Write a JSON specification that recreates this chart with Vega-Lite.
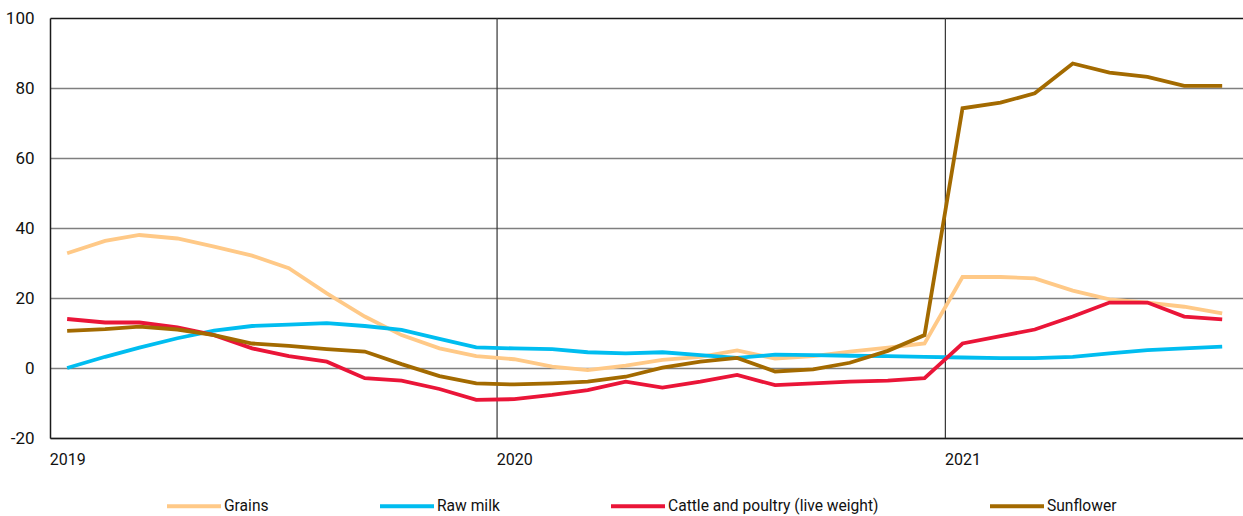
{
  "$schema": "https://vega.github.io/schema/vega-lite/v6.json",
  "width": 1193,
  "height": 420,
  "autosize": {"type": "none"},
  "padding": {"left": 50, "top": 18, "right": 0, "bottom": 78},
  "background": "white",
  "config": {"view": {"stroke": null}, "font": "Roboto"},
  "datasets": {
    "bounds": [{"date": "2020-01-01"}, {"date": "2021-01-01"}],
    "prices": [
      {"date": "2019-01-15", "series": "Grains", "value": 32.8},
      {"date": "2019-02-15", "series": "Grains", "value": 36.3},
      {"date": "2019-03-15", "series": "Grains", "value": 38.0},
      {"date": "2019-04-15", "series": "Grains", "value": 37.0},
      {"date": "2019-05-15", "series": "Grains", "value": 34.7},
      {"date": "2019-06-15", "series": "Grains", "value": 32.1},
      {"date": "2019-07-15", "series": "Grains", "value": 28.5},
      {"date": "2019-08-15", "series": "Grains", "value": 21.3},
      {"date": "2019-09-15", "series": "Grains", "value": 14.7},
      {"date": "2019-10-15", "series": "Grains", "value": 9.4},
      {"date": "2019-11-15", "series": "Grains", "value": 5.6},
      {"date": "2019-12-15", "series": "Grains", "value": 3.4},
      {"date": "2020-01-15", "series": "Grains", "value": 2.5},
      {"date": "2020-02-15", "series": "Grains", "value": 0.4},
      {"date": "2020-03-15", "series": "Grains", "value": -0.6},
      {"date": "2020-04-15", "series": "Grains", "value": 0.7},
      {"date": "2020-05-15", "series": "Grains", "value": 2.3},
      {"date": "2020-06-15", "series": "Grains", "value": 3.2},
      {"date": "2020-07-15", "series": "Grains", "value": 5.0},
      {"date": "2020-08-15", "series": "Grains", "value": 2.7},
      {"date": "2020-09-15", "series": "Grains", "value": 3.4},
      {"date": "2020-10-15", "series": "Grains", "value": 4.7},
      {"date": "2020-11-15", "series": "Grains", "value": 5.8},
      {"date": "2020-12-15", "series": "Grains", "value": 7.0},
      {"date": "2021-01-15", "series": "Grains", "value": 26.0},
      {"date": "2021-02-15", "series": "Grains", "value": 26.0},
      {"date": "2021-03-15", "series": "Grains", "value": 25.6},
      {"date": "2021-04-15", "series": "Grains", "value": 22.1},
      {"date": "2021-05-15", "series": "Grains", "value": 19.6},
      {"date": "2021-06-15", "series": "Grains", "value": 18.7},
      {"date": "2021-07-15", "series": "Grains", "value": 17.5},
      {"date": "2021-08-15", "series": "Grains", "value": 15.6},
      {"date": "2019-01-15", "series": "Raw milk", "value": 0.0},
      {"date": "2019-02-15", "series": "Raw milk", "value": 3.2},
      {"date": "2019-03-15", "series": "Raw milk", "value": 5.8},
      {"date": "2019-04-15", "series": "Raw milk", "value": 8.5},
      {"date": "2019-05-15", "series": "Raw milk", "value": 10.7},
      {"date": "2019-06-15", "series": "Raw milk", "value": 12.0},
      {"date": "2019-07-15", "series": "Raw milk", "value": 12.4},
      {"date": "2019-08-15", "series": "Raw milk", "value": 12.8},
      {"date": "2019-09-15", "series": "Raw milk", "value": 12.0},
      {"date": "2019-10-15", "series": "Raw milk", "value": 10.9},
      {"date": "2019-11-15", "series": "Raw milk", "value": 8.3},
      {"date": "2019-12-15", "series": "Raw milk", "value": 5.9},
      {"date": "2020-01-15", "series": "Raw milk", "value": 5.6},
      {"date": "2020-02-15", "series": "Raw milk", "value": 5.4},
      {"date": "2020-03-15", "series": "Raw milk", "value": 4.5},
      {"date": "2020-04-15", "series": "Raw milk", "value": 4.2},
      {"date": "2020-05-15", "series": "Raw milk", "value": 4.5},
      {"date": "2020-06-15", "series": "Raw milk", "value": 3.7},
      {"date": "2020-07-15", "series": "Raw milk", "value": 2.9},
      {"date": "2020-08-15", "series": "Raw milk", "value": 3.8},
      {"date": "2020-09-15", "series": "Raw milk", "value": 3.7},
      {"date": "2020-10-15", "series": "Raw milk", "value": 3.5},
      {"date": "2020-11-15", "series": "Raw milk", "value": 3.4},
      {"date": "2020-12-15", "series": "Raw milk", "value": 3.2},
      {"date": "2021-01-15", "series": "Raw milk", "value": 3.0},
      {"date": "2021-02-15", "series": "Raw milk", "value": 2.8},
      {"date": "2021-03-15", "series": "Raw milk", "value": 2.8},
      {"date": "2021-04-15", "series": "Raw milk", "value": 3.2},
      {"date": "2021-05-15", "series": "Raw milk", "value": 4.2},
      {"date": "2021-06-15", "series": "Raw milk", "value": 5.1},
      {"date": "2021-07-15", "series": "Raw milk", "value": 5.6},
      {"date": "2021-08-15", "series": "Raw milk", "value": 6.1},
      {"date": "2019-01-15", "series": "Cattle and poultry (live weight)", "value": 14.0},
      {"date": "2019-02-15", "series": "Cattle and poultry (live weight)", "value": 13.0},
      {"date": "2019-03-15", "series": "Cattle and poultry (live weight)", "value": 13.0},
      {"date": "2019-04-15", "series": "Cattle and poultry (live weight)", "value": 11.6},
      {"date": "2019-05-15", "series": "Cattle and poultry (live weight)", "value": 9.4},
      {"date": "2019-06-15", "series": "Cattle and poultry (live weight)", "value": 5.6},
      {"date": "2019-07-15", "series": "Cattle and poultry (live weight)", "value": 3.4},
      {"date": "2019-08-15", "series": "Cattle and poultry (live weight)", "value": 1.8},
      {"date": "2019-09-15", "series": "Cattle and poultry (live weight)", "value": -2.9},
      {"date": "2019-10-15", "series": "Cattle and poultry (live weight)", "value": -3.6},
      {"date": "2019-11-15", "series": "Cattle and poultry (live weight)", "value": -6.0},
      {"date": "2019-12-15", "series": "Cattle and poultry (live weight)", "value": -9.1},
      {"date": "2020-01-15", "series": "Cattle and poultry (live weight)", "value": -8.9},
      {"date": "2020-02-15", "series": "Cattle and poultry (live weight)", "value": -7.7},
      {"date": "2020-03-15", "series": "Cattle and poultry (live weight)", "value": -6.3},
      {"date": "2020-04-15", "series": "Cattle and poultry (live weight)", "value": -3.9},
      {"date": "2020-05-15", "series": "Cattle and poultry (live weight)", "value": -5.6},
      {"date": "2020-06-15", "series": "Cattle and poultry (live weight)", "value": -3.9},
      {"date": "2020-07-15", "series": "Cattle and poultry (live weight)", "value": -2.0},
      {"date": "2020-08-15", "series": "Cattle and poultry (live weight)", "value": -4.9},
      {"date": "2020-09-15", "series": "Cattle and poultry (live weight)", "value": -4.4},
      {"date": "2020-10-15", "series": "Cattle and poultry (live weight)", "value": -3.9},
      {"date": "2020-11-15", "series": "Cattle and poultry (live weight)", "value": -3.6},
      {"date": "2020-12-15", "series": "Cattle and poultry (live weight)", "value": -2.9},
      {"date": "2021-01-15", "series": "Cattle and poultry (live weight)", "value": 7.0},
      {"date": "2021-02-15", "series": "Cattle and poultry (live weight)", "value": 9.1},
      {"date": "2021-03-15", "series": "Cattle and poultry (live weight)", "value": 11.0},
      {"date": "2021-04-15", "series": "Cattle and poultry (live weight)", "value": 14.7},
      {"date": "2021-05-15", "series": "Cattle and poultry (live weight)", "value": 18.7},
      {"date": "2021-06-15", "series": "Cattle and poultry (live weight)", "value": 18.7},
      {"date": "2021-07-15", "series": "Cattle and poultry (live weight)", "value": 14.7},
      {"date": "2021-08-15", "series": "Cattle and poultry (live weight)", "value": 13.9},
      {"date": "2019-01-15", "series": "Sunflower", "value": 10.6},
      {"date": "2019-02-15", "series": "Sunflower", "value": 11.1},
      {"date": "2019-03-15", "series": "Sunflower", "value": 11.8},
      {"date": "2019-04-15", "series": "Sunflower", "value": 11.0},
      {"date": "2019-05-15", "series": "Sunflower", "value": 9.4},
      {"date": "2019-06-15", "series": "Sunflower", "value": 7.0},
      {"date": "2019-07-15", "series": "Sunflower", "value": 6.3},
      {"date": "2019-08-15", "series": "Sunflower", "value": 5.4},
      {"date": "2019-09-15", "series": "Sunflower", "value": 4.7},
      {"date": "2019-10-15", "series": "Sunflower", "value": 1.1},
      {"date": "2019-11-15", "series": "Sunflower", "value": -2.3},
      {"date": "2019-12-15", "series": "Sunflower", "value": -4.4},
      {"date": "2020-01-15", "series": "Sunflower", "value": -4.7},
      {"date": "2020-02-15", "series": "Sunflower", "value": -4.4},
      {"date": "2020-03-15", "series": "Sunflower", "value": -3.9},
      {"date": "2020-04-15", "series": "Sunflower", "value": -2.5},
      {"date": "2020-05-15", "series": "Sunflower", "value": 0.1},
      {"date": "2020-06-15", "series": "Sunflower", "value": 1.8},
      {"date": "2020-07-15", "series": "Sunflower", "value": 2.9},
      {"date": "2020-08-15", "series": "Sunflower", "value": -1.0},
      {"date": "2020-09-15", "series": "Sunflower", "value": -0.4},
      {"date": "2020-10-15", "series": "Sunflower", "value": 1.5},
      {"date": "2020-11-15", "series": "Sunflower", "value": 4.9},
      {"date": "2020-12-15", "series": "Sunflower", "value": 9.4},
      {"date": "2021-01-15", "series": "Sunflower", "value": 74.2},
      {"date": "2021-02-15", "series": "Sunflower", "value": 75.8},
      {"date": "2021-03-15", "series": "Sunflower", "value": 78.5},
      {"date": "2021-04-15", "series": "Sunflower", "value": 87.0},
      {"date": "2021-05-15", "series": "Sunflower", "value": 84.4},
      {"date": "2021-06-15", "series": "Sunflower", "value": 83.2},
      {"date": "2021-07-15", "series": "Sunflower", "value": 80.6},
      {"date": "2021-08-15", "series": "Sunflower", "value": 80.6}
    ]
  },
  "encoding": {
    "x": {
      "field": "date",
      "type": "temporal",
      "scale": {"domain": [{"year": 2019, "month": 1, "date": 1}, {"year": 2021, "month": 9, "date": 1}]},
      "axis": {
        "title": null,
        "values": [{"year": 2019, "month": 1, "date": 15}, {"year": 2020, "month": 1, "date": 15}, {"year": 2021, "month": 1, "date": 15}],
        "format": "%Y",
        "grid": false,
        "ticks": false,
        "domainColor": "#1a1a1a",
        "domainWidth": 1.5,
        "labelPadding": 13,
        "labelFontSize": 16,
        "labelColor": "#111111",
        "labelFont": "Roboto"
      }
    }
  },
  "layer": [
    {
      "data": {"name": "bounds"},
      "mark": {"type": "rule", "color": "#333333", "strokeWidth": 1.2},
      "encoding": {}
    },
    {
      "data": {"name": "prices"},
      "mark": {"type": "line", "strokeWidth": 3.8, "strokeJoin": "miter"},
      "encoding": {
        "y": {
          "field": "value",
          "type": "quantitative",
          "scale": {"domain": [-20, 100], "nice": false, "zero": false},
          "axis": {
            "title": null,
            "values": [-20, 0, 20, 40, 60, 80, 100],
            "labelExpr": "datum.value + ''",
            "grid": true,
            "gridColor": {"condition": {"test": "datum.value === 100", "value": "#1a1a1a"}, "value": "#7f7f7f"},
            "gridWidth": 1.5,
            "ticks": false,
            "domainColor": "#1a1a1a",
            "domainWidth": 1.5,
            "labelPadding": 16,
            "labelFontSize": 17,
            "labelColor": "#111111",
            "labelFont": "Roboto"
          }
        },
        "color": {
          "field": "series",
          "type": "nominal",
          "sort": null,
          "scale": {
            "domain": ["Grains", "Raw milk", "Cattle and poultry (live weight)", "Sunflower"],
            "range": ["#ffc987", "#00bdf0", "#ea1538", "#a36a00"]
          },
          "legend": {
            "orient": "none",
            "legendX": 115,
            "legendY": 459,
            "direction": "horizontal",
            "title": null,
            "symbolType": "stroke",
            "symbolSize": 2916,
            "symbolStrokeWidth": 4,
            "labelFontSize": 15.6,
            "labelFont": "Roboto",
            "labelColor": "#111111",
            "labelOffset": 1,
            "labelLimit": 400,
            "columnPadding": 103
          }
        }
      }
    }
  ]
}
